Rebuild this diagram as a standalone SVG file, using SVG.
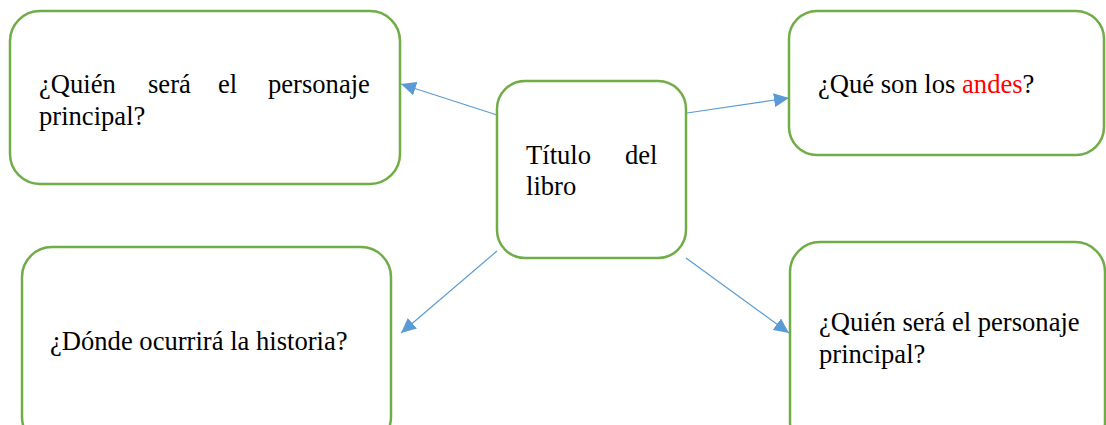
<svg xmlns="http://www.w3.org/2000/svg" width="1106" height="425" viewBox="0 0 1106 425">
<style>
.box{fill:#fff;stroke:#70AD47;stroke-width:2.5}
.t{font-family:"Liberation Serif","Times New Roman",serif;font-size:26.6px;fill:#000}
.red{fill:#FF0000}
.con{stroke:#5B9BD5;stroke-width:1.2;fill:none}
</style>
<defs>
<marker id="ah" markerUnits="userSpaceOnUse" markerWidth="16" markerHeight="14" refX="15" refY="7" orient="auto">
<path d="M0,0 L15,7 L0,14 Z" fill="#5B9BD5"/>
</marker>
</defs>
<rect width="1106" height="425" fill="#fff"/>
<g id="connectors">
<line class="con" x1="497" y1="115" x2="401" y2="84" marker-end="url(#ah)"/>
<line class="con" x1="687" y1="113" x2="789" y2="98" marker-end="url(#ah)"/>
<line class="con" x1="497" y1="251" x2="401" y2="333" marker-end="url(#ah)"/>
<line class="con" x1="686" y1="258" x2="789" y2="333" marker-end="url(#ah)"/>
</g>
<g id="n1">
<rect class="box" x="10" y="11" width="390" height="173" rx="30"/>
<text class="t" y="93"><tspan x="39">¿Quién</tspan><tspan x="148">será</tspan><tspan x="218">el</tspan><tspan x="268">personaje</tspan></text>
<text class="t" x="39" y="125">principal?</text>
</g>
<g id="center">
<rect class="box" x="497" y="81" width="189" height="177" rx="28"/>
<text class="t" y="164"><tspan x="526">Título</tspan><tspan x="625">del</tspan></text>
<text class="t" x="526" y="195">libro</text>
</g>
<g id="n2">
<rect class="box" x="789" y="11" width="315" height="144" rx="28"/>
<text class="t" x="818" y="93">¿Qué son los <tspan class="red">andes</tspan>?</text>
</g>
<g id="n3">
<rect class="box" x="22" y="247" width="369" height="200" rx="30"/>
<text class="t" x="50" y="350">¿Dónde ocurrirá la historia?</text>
</g>
<g id="n4">
<rect class="box" x="790" y="242" width="315" height="210" rx="30"/>
<text class="t" x="819" y="331">¿Quién será el personaje</text>
<text class="t" x="819" y="363">principal?</text>
</g>
</svg>
